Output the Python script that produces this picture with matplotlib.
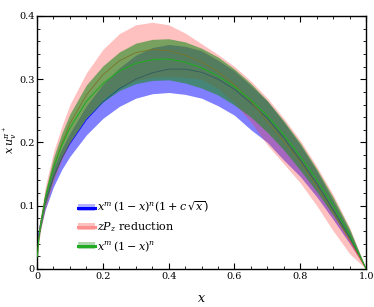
import matplotlib
matplotlib.use("Agg")
import matplotlib.pyplot as plt
from matplotlib.lines import Line2D
from matplotlib.patches import Patch
from matplotlib.ticker import MultipleLocator

plt.rcParams["font.family"] = ["DejaVu Serif"]
plt.rcParams["mathtext.fontset"] = "dejavuserif"

# --- data ---
x = [0.001, 0.005, 0.01, 0.025, 0.05, 0.075, 0.1, 0.15, 0.2, 0.25, 0.3, 0.35, 0.4,
     0.45, 0.5, 0.55, 0.6, 0.65, 0.7, 0.75, 0.8, 0.85, 0.9, 0.95, 1.0]

# x^m (1-x)^n (1 + c sqrt(x))
blue_lo = [0.027, 0.050, 0.063, 0.094, 0.130, 0.157, 0.178, 0.212, 0.238, 0.257, 0.270, 0.277, 0.279,
           0.276, 0.270, 0.258, 0.243, 0.220, 0.200, 0.172, 0.146, 0.114, 0.078, 0.040, 0.0]
blue_mid = [0.030, 0.055, 0.070, 0.105, 0.145, 0.175, 0.198, 0.236, 0.264, 0.285, 0.300, 0.310, 0.316,
            0.316, 0.311, 0.300, 0.284, 0.262, 0.238, 0.207, 0.172, 0.135, 0.093, 0.050, 0.0]
blue_hi = [0.034, 0.060, 0.078, 0.117, 0.160, 0.190, 0.215, 0.258, 0.292, 0.318, 0.338, 0.350, 0.355,
           0.352, 0.345, 0.330, 0.313, 0.290, 0.265, 0.232, 0.196, 0.155, 0.108, 0.059, 0.0]

# zPz reduction
red_lo = [0.017, 0.040, 0.058, 0.095, 0.138, 0.172, 0.200, 0.240, 0.268, 0.287, 0.298, 0.303, 0.304,
          0.303, 0.300, 0.285, 0.262, 0.232, 0.196, 0.166, 0.136, 0.100, 0.060, 0.024, 0.0]
red_mid = [0.019, 0.047, 0.069, 0.112, 0.161, 0.198, 0.230, 0.275, 0.307, 0.329, 0.342, 0.347, 0.345,
           0.338, 0.327, 0.312, 0.291, 0.265, 0.233, 0.202, 0.169, 0.131, 0.089, 0.045, 0.0]
red_hi = [0.022, 0.055, 0.080, 0.130, 0.185, 0.225, 0.260, 0.310, 0.347, 0.372, 0.386, 0.390, 0.386,
          0.373, 0.356, 0.339, 0.320, 0.297, 0.270, 0.238, 0.203, 0.162, 0.117, 0.065, 0.0]

# x^m (1-x)^n
green_lo = [0.018, 0.042, 0.061, 0.101, 0.144, 0.176, 0.201, 0.239, 0.264, 0.282, 0.293, 0.298, 0.299,
            0.294, 0.286, 0.275, 0.259, 0.240, 0.216, 0.188, 0.156, 0.122, 0.085, 0.045, 0.0]
green_mid = [0.0195, 0.047, 0.068, 0.112, 0.160, 0.195, 0.223, 0.265, 0.293, 0.313, 0.325, 0.331, 0.332,
             0.327, 0.318, 0.305, 0.288, 0.267, 0.242, 0.212, 0.178, 0.141, 0.100, 0.054, 0.0]
green_hi = [0.021, 0.052, 0.075, 0.123, 0.176, 0.214, 0.245, 0.291, 0.321, 0.343, 0.357, 0.363, 0.364,
            0.359, 0.349, 0.335, 0.316, 0.293, 0.266, 0.234, 0.199, 0.158, 0.113, 0.063, 0.0]

labels = [r"$x^m\,(1-x)^n\left(1+c\,\sqrt{x}\right)$", r"$zP_z$ reduction", r"$x^m\,(1-x)^n$"]

BLUE = "#0000ff"
RED = "#ff3030"
GREEN = "#1f8c1f"

fig = plt.figure(figsize=(3.74, 3.07), dpi=100)
ax = fig.add_axes([0.099, 0.124, 0.880, 0.824])

ax.fill_between(x, blue_lo, blue_hi, color=BLUE, alpha=0.5, lw=0, zorder=1)
ax.plot(x, blue_mid, color=BLUE, lw=0.6, zorder=1.1)
ax.fill_between(x, red_lo, red_hi, color=RED, alpha=0.3, lw=0, zorder=2)
ax.plot(x, red_mid, color="#ff5030", lw=0.6, zorder=2.1)
ax.fill_between(x, green_lo, green_hi, color=GREEN, alpha=0.6, lw=0, zorder=3)
ax.plot(x, green_mid, color="#22aa22", lw=0.8, zorder=3.1)

ax.set_xlim(0, 1)
ax.set_ylim(0, 0.4)
ax.set_xticks([0, 0.2, 0.4, 0.6, 0.8, 1.0])
ax.set_xticklabels(["0", "0.2", "0.4", "0.6", "0.8", "1.0"])
ax.set_yticks([0, 0.1, 0.2, 0.3, 0.4])
ax.set_yticklabels(["0", "0.1", "0.2", "0.3", "0.4"])
ax.xaxis.set_minor_locator(MultipleLocator(0.05))
ax.yaxis.set_minor_locator(MultipleLocator(0.02))
ax.tick_params(which="both", direction="in", top=True, right=True, labelsize=7, pad=2)
ax.tick_params(axis="y", which="major", pad=1.5)
ax.tick_params(which="major", length=4.5, width=0.8)
ax.tick_params(which="minor", length=2.5, width=0.6)
for s in ax.spines.values():
    s.set_linewidth(1.0)

ax.set_xlabel(r"$x$", fontsize=9, labelpad=8)
ax.set_ylabel(r"$x\,u_v^{\pi^+}$", fontsize=8)
ax.yaxis.set_label_coords(-0.054, 0.51)

# --- legend: thick line over a faint band ---
handles = [
    (Patch(facecolor=BLUE, alpha=0.3, edgecolor="none"), Line2D([], [], color=BLUE, lw=2.2)),
    (Patch(facecolor=RED, alpha=0.3, edgecolor="none"), Line2D([], [], color="#ff9090", lw=2.2)),
    (Patch(facecolor=GREEN, alpha=0.35, edgecolor="none"), Line2D([], [], color="#22aa22", lw=2.2)),
]
ax.legend(handles, labels, loc="lower left", bbox_to_anchor=(0.1, 0.03), frameon=False,
          fontsize=8, handlelength=1.6, handleheight=0.6, handletextpad=0.15, labelspacing=0.45,
          borderpad=0.2)

fig.savefig("out.png", dpi=100)
